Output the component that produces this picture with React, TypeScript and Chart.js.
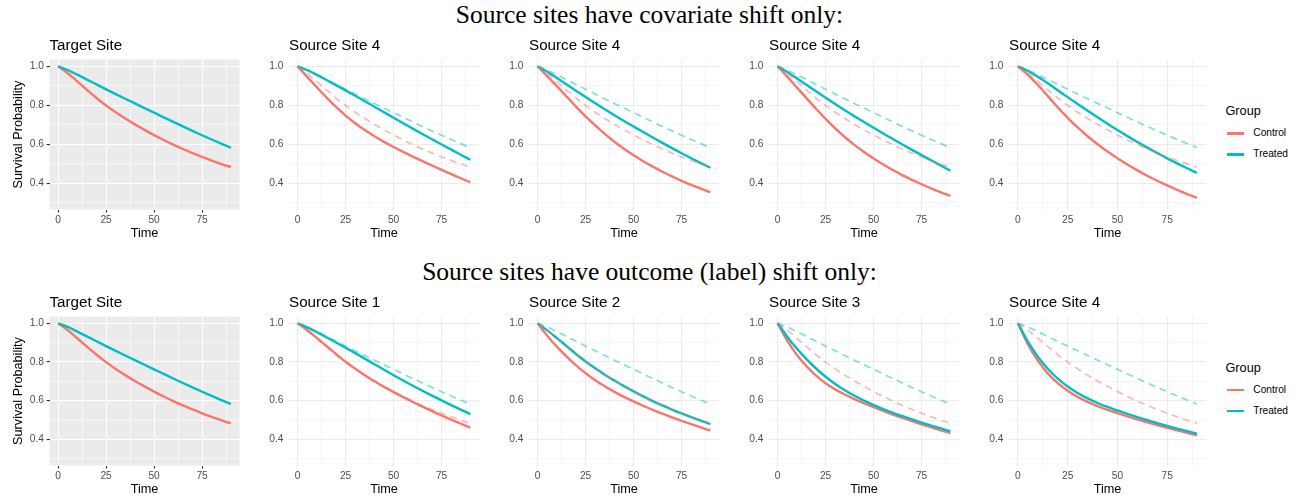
import React, { useEffect, useRef } from "react";
import { Chart, registerables } from "chart.js";

Chart.register(...registerables);

// ---------------- data ----------------
const times = [0, 5, 10, 15, 20, 25, 30, 35, 40, 45, 50, 55, 60, 65, 70, 75, 80, 85, 90];
const xTickValues = [0, 12.5, 25, 37.5, 50, 62.5, 75, 87.5];
const xTickLabels = ["0", "", "25", "", "50", "", "75", ""];
const yTickValues = [0.3, 0.4, 0.5, 0.6, 0.7, 0.8, 0.9, 1.0];
const yTickLabels = ["", "0.4", "", "0.6", "", "0.8", "", "1.0"];
const groups = ["Control", "Treated"];
const rowTitles = [
  "Source sites have covariate shift only:",
  "Source sites have outcome (label) shift only:",
];
const row1PanelTitles = ["Target Site", "Source Site 4", "Source Site 4", "Source Site 4", "Source Site 4"];
const row2PanelTitles = ["Target Site", "Source Site 1", "Source Site 2", "Source Site 3", "Source Site 4"];

const targetControl = [1, 0.9645, 0.9225, 0.879, 0.8375, 0.7993, 0.7643, 0.732, 0.702, 0.6738, 0.647, 0.6218, 0.598, 0.5755, 0.5545, 0.5349, 0.5165, 0.4992, 0.483];
const targetTreated = [1, 0.981, 0.957, 0.932, 0.907, 0.882, 0.8575, 0.8334, 0.8094, 0.7856, 0.7619, 0.7381, 0.7146, 0.6914, 0.6686, 0.6462, 0.6244, 0.6032, 0.5826];

const cov1Control = [1, 0.946, 0.8925, 0.8405, 0.7915, 0.747, 0.7075, 0.6725, 0.641, 0.6122, 0.5857, 0.5607, 0.5367, 0.5135, 0.4909, 0.4688, 0.447, 0.4255, 0.4043];
const cov1Treated = [1, 0.98, 0.956, 0.93, 0.9035, 0.8765, 0.849, 0.821, 0.7927, 0.7643, 0.736, 0.708, 0.6803, 0.6529, 0.6258, 0.599, 0.5725, 0.5463, 0.5204];
const cov2Control = [1, 0.95, 0.898, 0.8455, 0.7935, 0.7435, 0.6965, 0.653, 0.613, 0.5765, 0.543, 0.513, 0.485, 0.459, 0.4348, 0.4122, 0.3912, 0.3716, 0.3532];
const cov2Treated = [1, 0.972, 0.9405, 0.9075, 0.8745, 0.842, 0.8102, 0.7792, 0.749, 0.7196, 0.6909, 0.6624, 0.6344, 0.6069, 0.5799, 0.5534, 0.5279, 0.5032, 0.4792];
const cov3Control = [1, 0.947, 0.892, 0.8365, 0.782, 0.73, 0.6815, 0.637, 0.5965, 0.5597, 0.5262, 0.4956, 0.4674, 0.4414, 0.4172, 0.3946, 0.3734, 0.3534, 0.3345];
const cov3Treated = [1, 0.971, 0.9385, 0.905, 0.8715, 0.8385, 0.8065, 0.775, 0.744, 0.7138, 0.6842, 0.6552, 0.6267, 0.5987, 0.5711, 0.5439, 0.5171, 0.4906, 0.4644];
const cov4Control = [1, 0.956, 0.904, 0.847, 0.7895, 0.7355, 0.686, 0.641, 0.6, 0.5625, 0.528, 0.4958, 0.466, 0.4383, 0.4125, 0.3884, 0.3658, 0.3445, 0.3244];
const cov4Treated = [1, 0.976, 0.946, 0.9125, 0.8773, 0.8418, 0.8068, 0.7723, 0.7385, 0.7053, 0.6728, 0.6418, 0.6118, 0.5828, 0.5548, 0.5276, 0.5016, 0.4766, 0.4524];

const out1Control = [1, 0.964, 0.924, 0.8825, 0.841, 0.801, 0.765, 0.7315, 0.7005, 0.6715, 0.6443, 0.6181, 0.593, 0.5689, 0.5457, 0.5234, 0.5019, 0.4811, 0.461];
const out1Treated = [1, 0.9785, 0.954, 0.928, 0.901, 0.8735, 0.8455, 0.8171, 0.7885, 0.7599, 0.7315, 0.7039, 0.6771, 0.6511, 0.6258, 0.6012, 0.5772, 0.5538, 0.5309];
const out2Control = [1, 0.936, 0.879, 0.8285, 0.7825, 0.7415, 0.706, 0.6742, 0.6457, 0.6199, 0.5963, 0.5739, 0.5529, 0.533, 0.5141, 0.4961, 0.4785, 0.4615, 0.445];
const out2Treated = [1, 0.9635, 0.924, 0.8825, 0.8415, 0.8025, 0.767, 0.7345, 0.704, 0.675, 0.648, 0.6225, 0.598, 0.5755, 0.5542, 0.534, 0.5148, 0.4965, 0.479];
const out3Control = [1, 0.9106, 0.8377, 0.7783, 0.7299, 0.6905, 0.6584, 0.6319, 0.6084, 0.5866, 0.5661, 0.5468, 0.5285, 0.511, 0.4942, 0.478, 0.4623, 0.447, 0.4321];
const out3Treated = [1, 0.9307, 0.8692, 0.8147, 0.7663, 0.7234, 0.6862, 0.6537, 0.6252, 0.6, 0.5772, 0.5566, 0.5376, 0.5198, 0.503, 0.487, 0.4716, 0.4567, 0.4422];
const out4Control = [1, 0.8912, 0.8068, 0.7413, 0.6905, 0.6511, 0.6196, 0.5938, 0.572, 0.553, 0.536, 0.5194, 0.5036, 0.4885, 0.474, 0.46, 0.4465, 0.4335, 0.4209];
const out4Treated = [1, 0.9046, 0.8273, 0.7647, 0.714, 0.6729, 0.6394, 0.6116, 0.588, 0.5675, 0.5493, 0.5318, 0.5152, 0.4994, 0.4843, 0.4698, 0.4558, 0.4423, 0.4293];

const row1Series = [
  [targetControl, targetTreated],
  [cov1Control, cov1Treated],
  [cov2Control, cov2Treated],
  [cov3Control, cov3Treated],
  [cov4Control, cov4Treated],
];
const row2Series = [
  [targetControl, targetTreated],
  [out1Control, out1Treated],
  [out2Control, out2Treated],
  [out3Control, out3Treated],
  [out4Control, out4Treated],
];

// ---------------- layout / style ----------------
const W = 1299;
const H = 501;
const SANS = '"Liberation Sans", Arial, Helvetica, sans-serif';
const SERIF = '"Liberation Serif", "Times New Roman", serif';
const RED = "#F8766D";
const CYAN = "#00BFC4";
const RED_A = "rgba(248,118,109,0.5)";
const CYAN_A = "rgba(0,191,196,0.5)";

const PANEL_LEFTS = [49.5, 289, 529, 769, 1009];
const PANEL_WIDTHS = [190, 190, 190, 190, 197];
const ROW_TOPS = [59.5, 316.5];
const ROW_HEIGHTS = [150, 149];
const X_MIN = -4.5;
const X_MAX = 94.5;
const Y_MIN = 0.265;
const Y_MAX = 1.035;
const X_AXIS_H = 32;

const panelTitlePlugin = {
  id: "panelTitle",
  afterDraw(chart: any, _args: any, opts: any) {
    const { ctx, chartArea } = chart;
    ctx.save();
    ctx.font = `15.2px ${SANS}`;
    ctx.fillStyle = "#000000";
    ctx.textAlign = "left";
    ctx.textBaseline = "alphabetic";
    ctx.fillText(opts.text, chartArea.left, chartArea.top - 10);
    ctx.restore();
  },
};

const panelBgPlugin = {
  id: "panelBg",
  beforeDraw(chart: any, _args: any, opts: any) {
    if (!opts.color) return;
    const { ctx, chartArea } = chart;
    ctx.save();
    ctx.fillStyle = opts.color;
    ctx.fillRect(chartArea.left, chartArea.top, chartArea.right - chartArea.left, chartArea.bottom - chartArea.top);
    ctx.restore();
  },
};

type PanelProps = {
  row: number;
  col: number;
  title: string;
  control: number[];
  treated: number[];
};

function Panel({ row, col, title, control, treated }: PanelProps) {
  const ref = useRef<HTMLCanvasElement>(null);
  const isTarget = col === 0;
  const plotLeft = PANEL_LEFTS[col];
  const plotW = PANEL_WIDTHS[col];
  const plotTop = ROW_TOPS[row];
  const plotH = ROW_HEIGHTS[row];
  const yW = isTarget ? plotLeft : 40;
  const canvasLeft = Math.round(plotLeft - yW);
  const padLeft = plotLeft - yW - canvasLeft;
  const canvasTop = Math.floor(plotTop - 28);
  const padTop = plotTop - canvasTop;
  const cw = Math.ceil(padLeft + yW + plotW + 6);
  const padRight = cw - padLeft - yW - plotW;
  const ch = Math.ceil(padTop + plotH + X_AXIS_H + 2);
  const padBottom = ch - padTop - plotH - X_AXIS_H;

  useEffect(() => {
    const toPts = (vals: number[]) => times.map((t, i) => ({ x: t, y: vals[i] }));
    const base = {
      pointRadius: 0,
      pointHoverRadius: 0,
      fill: false,
      cubicInterpolationMode: "monotone" as const,
      borderCapStyle: "butt" as const,
      borderJoinStyle: "round" as const,
    };
    const datasets: any[] = [];
    if (!isTarget) {
      datasets.push({ ...base, label: "Control (target)", data: toPts(targetControl), borderColor: RED_A, borderWidth: 1.7, borderDash: [7, 5] });
      datasets.push({ ...base, label: "Treated (target)", data: toPts(targetTreated), borderColor: CYAN_A, borderWidth: 1.7, borderDash: [7, 5] });
    }
    datasets.push({ ...base, label: groups[1], data: toPts(treated), borderColor: CYAN, borderWidth: 2.4 });
    datasets.push({ ...base, label: groups[0], data: toPts(control), borderColor: RED, borderWidth: 2.4 });

    const gridColor = isTarget ? "#FFFFFF" : "#EBEBEB";
    const xMajor = (v: number) => Math.abs(v % 25) < 1e-6;
    const yMajor = (v: number) => Math.round(v * 10) % 2 === 0;

    const chart = new Chart(ref.current as HTMLCanvasElement, {
      type: "line",
      data: { datasets },
      plugins: [panelBgPlugin, panelTitlePlugin],
      options: {
        responsive: false,
        devicePixelRatio: 1,
        animation: false,
        events: [],
        layout: { padding: { left: padLeft, top: padTop, right: padRight, bottom: padBottom } },
        plugins: {
          legend: { display: false },
          tooltip: { enabled: false },
          title: { display: false },
          panelTitle: { text: title },
          panelBg: { color: isTarget ? "#EBEBEB" : null },
        } as any,
        scales: {
          x: {
            type: "linear",
            min: X_MIN,
            max: X_MAX,
            afterBuildTicks: (scale: any) => {
              scale.ticks = xTickValues.map((v) => ({ value: v }));
            },
            afterFit: (scale: any) => {
              scale.height = X_AXIS_H;
            },
            border: { display: false },
            grid: {
              color: gridColor,
              lineWidth: (ctx: any) => (ctx.tick && xMajor(ctx.tick.value) ? 1.1 : 0.55),
              drawTicks: isTarget,
              tickLength: 3,
              tickWidth: 1.1,
              tickColor: (ctx: any) => (ctx.tick && xMajor(ctx.tick.value) ? "#333333" : "rgba(0,0,0,0)"),
            },
            ticks: {
              autoSkip: false,
              maxRotation: 0,
              padding: isTarget ? 1.6 : 4.6,
              color: "#4D4D4D",
              font: { family: SANS, size: 10.2 },
              callback: (v: any) => {
                const i = xTickValues.indexOf(Number(v));
                return i >= 0 ? xTickLabels[i] : "";
              },
            },
            title: {
              display: true,
              text: "Time",
              color: "#000000",
              font: { family: SANS, size: 12.7 },
              padding: { top: 0, bottom: 0 },
            },
          },
          y: {
            type: "linear",
            min: Y_MIN,
            max: Y_MAX,
            afterBuildTicks: (scale: any) => {
              scale.ticks = yTickValues.map((v) => ({ value: v }));
            },
            afterFit: (scale: any) => {
              scale.width = yW;
            },
            border: { display: false },
            grid: {
              color: gridColor,
              lineWidth: (ctx: any) => (ctx.tick && yMajor(ctx.tick.value) ? 1.1 : 0.55),
              drawTicks: isTarget,
              tickLength: 3,
              tickWidth: 1.1,
              tickColor: (ctx: any) => (ctx.tick && yMajor(ctx.tick.value) ? "#333333" : "rgba(0,0,0,0)"),
            },
            ticks: {
              autoSkip: false,
              padding: isTarget ? 2.5 : 5.5,
              color: "#4D4D4D",
              font: { family: SANS, size: 10.2 },
              callback: (v: any) => {
                const i = yTickValues.findIndex((t) => Math.abs(t - Number(v)) < 1e-6);
                return i >= 0 ? yTickLabels[i] : "";
              },
            },
            title: {
              display: isTarget,
              text: "Survival Probability",
              color: "#000000",
              font: { family: SANS, size: 12.7 },
              padding: { top: 10.6, bottom: 0 },
            },
          },
        },
      } as any,
    });
    return () => chart.destroy();
  }, []);

  return (
    <canvas
      ref={ref}
      width={cw}
      height={ch}
      style={{ position: "absolute", left: canvasLeft, top: canvasTop, width: cw, height: ch }}
    />
  );
}

function Legend({ row }: { row: number }) {
  const groupY = row === 0 ? 111.7 : 368;
  const itemYs = row === 0 ? [133.5, 154.5] : [390.3, 411.3];
  const colors = [RED, CYAN];
  return (
    <>
      <div
        style={{
          position: "absolute",
          left: 1225.5,
          top: groupY - 6.35,
          fontFamily: SANS,
          fontSize: 12.7,
          lineHeight: "12.7px",
          color: "#000",
          whiteSpace: "nowrap",
        }}
      >
        Group
      </div>
      {groups.map((g, i) => (
        <React.Fragment key={g}>
          <div
            style={{
              position: "absolute",
              left: 1227.3,
              top: itemYs[i] - 1.2,
              width: 17,
              height: 2.4,
              background: colors[i],
            }}
          />
          <div
            style={{
              position: "absolute",
              left: 1253.3,
              top: itemYs[i] - 5.1,
              fontFamily: SANS,
              fontSize: 10.2,
              lineHeight: "10.2px",
              color: "#000",
              whiteSpace: "nowrap",
            }}
          >
            {g}
          </div>
        </React.Fragment>
      ))}
    </>
  );
}

export default function App() {
  const rows = [
    { titles: row1PanelTitles, series: row1Series, titleTop: 2.1 },
    { titles: row2PanelTitles, series: row2Series, titleTop: 258.6 },
  ];
  return (
    <div
      style={{
        position: "absolute",
        left: 0,
        top: 0,
        width: W,
        height: H,
        background: "#FFFFFF",
        overflow: "hidden",
      }}
    >
      {rows.map((r, ri) => (
        <React.Fragment key={ri}>
          <div
            style={{
              position: "absolute",
              left: 0,
              top: r.titleTop,
              width: W,
              textAlign: "center",
              fontFamily: SERIF,
              fontSize: 25.5,
              lineHeight: "25.5px",
              color: "#000",
              whiteSpace: "nowrap",
            }}
          >
            {rowTitles[ri]}
          </div>
          {r.titles.map((t, ci) => (
            <Panel
              key={ci}
              row={ri}
              col={ci}
              title={t}
              control={r.series[ci][0]}
              treated={r.series[ci][1]}
            />
          ))}
          <Legend row={ri} />
        </React.Fragment>
      ))}
    </div>
  );
}
